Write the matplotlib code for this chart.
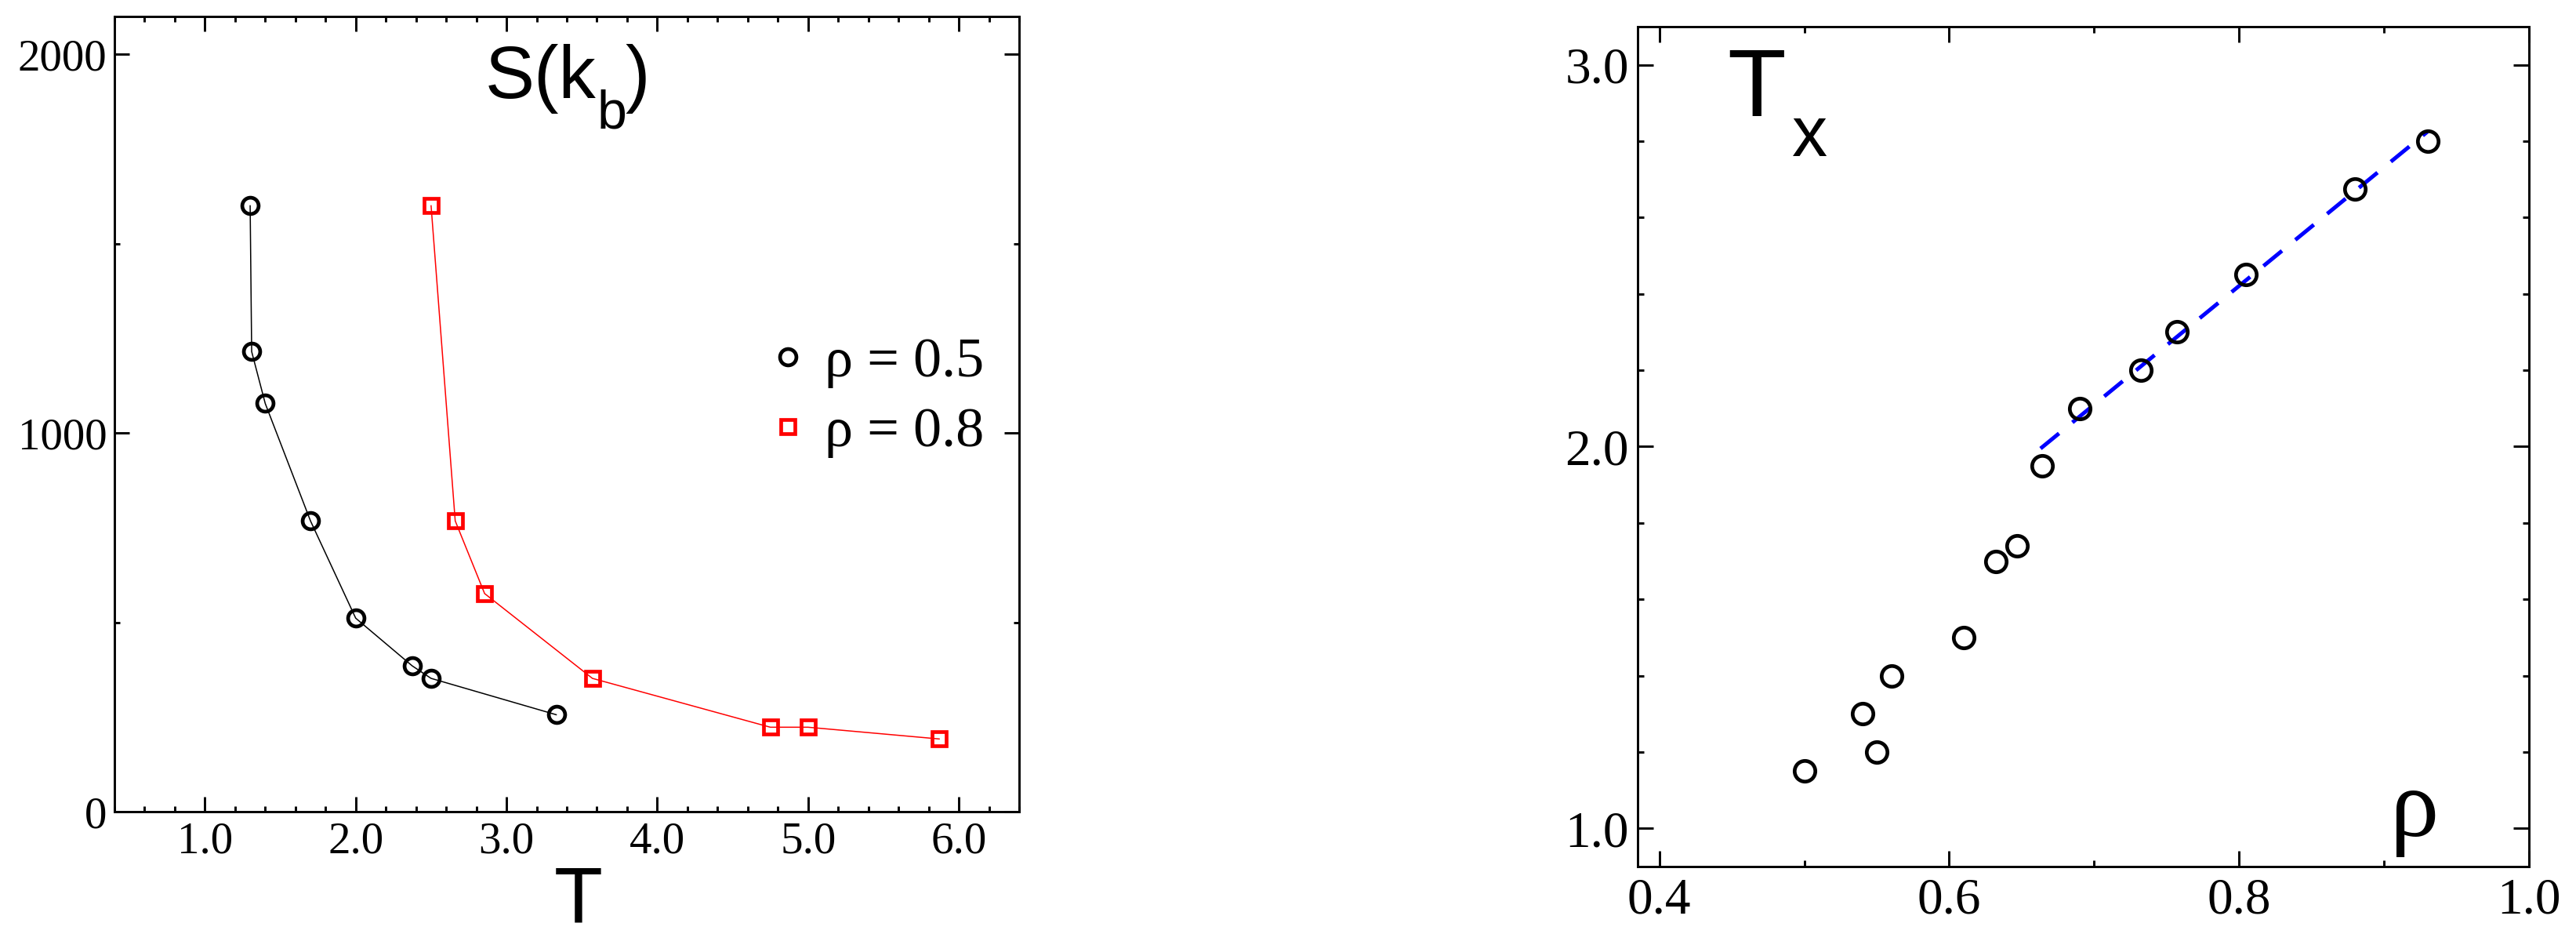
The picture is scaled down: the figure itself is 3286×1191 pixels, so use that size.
import matplotlib
matplotlib.use("Agg")
import matplotlib.pyplot as plt
from matplotlib.ticker import MultipleLocator, FormatStrFormatter

# ---------------- data ----------------
# left panel: S(k_b) vs T
rho05_T = [1.30, 1.31, 1.40, 1.70, 2.00, 2.375, 2.50, 3.33]
rho05_S = [1600, 1215, 1078, 768, 511, 385, 352, 256]
rho08_T = [2.50, 2.66, 2.855, 3.57, 4.75, 5.00, 5.87]
rho08_S = [1600, 768, 576, 352, 223, 223, 192]
legend_labels = ["ρ = 0.5", "ρ = 0.8"]

# right panel: T_x vs rho
rho_vals = [0.50, 0.54, 0.55, 0.56, 0.61, 0.632, 0.647, 0.664, 0.69, 0.732, 0.757, 0.805, 0.88, 0.93]
Tx_vals = [1.15, 1.30, 1.20, 1.40, 1.50, 1.70, 1.74, 1.95, 2.10, 2.20, 2.30, 2.45, 2.675, 2.80]
fit_rho = [0.663, 0.93]
fit_T = [1.995, 2.825]

SERIF = "Liberation Serif"
SANS = "Liberation Sans"

W, H = 3287, 1191
fig = plt.figure(figsize=(W / 100, H / 100), dpi=100)

def frame(ax, maj_len, min_len):
    for s in ax.spines.values():
        s.set_linewidth(2.1)
    ax.tick_params(which="both", direction="in", top=True, right=True, width=2.1)
    ax.tick_params(which="major", length=maj_len)
    ax.tick_params(which="minor", length=min_len)

# ---------------- left panel ----------------
axL = fig.add_axes([146 / W, 1 - 1035 / H, 1154 / W, 1014 / H])
axL.plot(rho05_T, rho05_S, color="black", lw=1.1, marker="o", ms=15.0, mew=3.4,
         mfc="none", mec="black", label=legend_labels[0])
axL.plot(rho08_T, rho08_S, color="red", lw=1.1, marker="s", ms=13.2, mew=3.4,
         mfc="none", mec="red", label=legend_labels[1])
axL.set_xlim(0.4, 6.4)
axL.set_ylim(0, 2100)
axL.xaxis.set_major_locator(MultipleLocator(1.0))
axL.xaxis.set_minor_locator(MultipleLocator(0.2))
axL.yaxis.set_major_locator(MultipleLocator(1000))
axL.yaxis.set_minor_locator(MultipleLocator(500))
axL.xaxis.set_major_formatter(FormatStrFormatter("%.1f"))
axL.yaxis.set_major_formatter(FormatStrFormatter("%d"))
frame(axL, 13.7, 5.0)
axL.tick_params(axis="x", pad=9)
axL.tick_params(axis="y", pad=7)
for lab in axL.get_xticklabels() + axL.get_yticklabels():
    lab.set_fontfamily(SERIF)
    lab.set_fontsize(41)

axL.set_xlabel("T", fontfamily=SANS, fontsize=73)
axL.xaxis.set_label_coords((738 - 146) / 1154, (1035 - 1176) / 1014)
axL.xaxis.label.set_va("baseline")
axL.xaxis.label.set_ha("center")

# title S(k_b) built from pieces to mimic the deep subscript
axL.text((619 - 146) / 1154, (1035 - 125) / 1014, "S(k", transform=axL.transAxes,
         fontfamily=SANS, fontsize=68, ha="left", va="baseline")
axL.text((762 - 146) / 1154, (1035 - 163) / 1014, "b", transform=axL.transAxes,
         fontfamily=SANS, fontsize=49, ha="left", va="baseline")
axL.text((797 - 146) / 1154, (1035 - 125) / 1014, ")", transform=axL.transAxes,
         fontfamily=SANS, fontsize=68, ha="left", va="baseline")

leg = axL.legend(loc="center left", bbox_to_anchor=((1005 - 146) / 1154, (1035 - 507) / 1014),
                 frameon=False, handlelength=0, handletextpad=0.65, borderpad=0,
                 borderaxespad=0, labelspacing=0.33, numpoints=1,
                 prop={"family": SERIF, "size": 52})

# ---------------- right panel ----------------
axR = fig.add_axes([2089 / W, 1 - 1105 / H, 1137 / W, 1071 / H])
axR.plot(fit_rho, fit_T, color="#0000ff", lw=3.6, ls=(0, (6.1, 4.4)))
axR.plot(rho_vals, Tx_vals, ls="none", marker="o", ms=19.0, mew=3.4,
         mfc="none", mec="black")
axR.set_xlim(0.385, 1.0)
axR.set_ylim(0.9, 3.1)
axR.xaxis.set_major_locator(MultipleLocator(0.2))
axR.xaxis.set_minor_locator(MultipleLocator(0.1))
axR.yaxis.set_major_locator(MultipleLocator(1.0))
axR.yaxis.set_minor_locator(MultipleLocator(0.2))
axR.xaxis.set_major_formatter(FormatStrFormatter("%.1f"))
axR.yaxis.set_major_formatter(FormatStrFormatter("%.1f"))
frame(axR, 14.4, 5.5)
axR.tick_params(axis="x", pad=10)
axR.tick_params(axis="y", pad=8)
for lab in axR.get_xticklabels() + axR.get_yticklabels():
    lab.set_fontfamily(SERIF)
    lab.set_fontsize(47)

axR.set_xlabel("ρ", fontfamily=SERIF, fontsize=90)
axR.xaxis.set_label_coords((3080 - 2089) / 1137, (1105 - 1066) / 1071)
axR.xaxis.label.set_va("baseline")
axR.xaxis.label.set_ha("center")

axR.text((2203 - 2089) / 1137, (1105 - 148) / 1071, "T", transform=axR.transAxes,
         fontfamily=SANS, fontsize=88, ha="left", va="baseline")
axR.text((2286 - 2089) / 1137, (1105 - 199) / 1071, "x", transform=axR.transAxes,
         fontfamily=SANS, fontsize=65, ha="left", va="baseline")

fig.savefig("out.png", dpi=100)
